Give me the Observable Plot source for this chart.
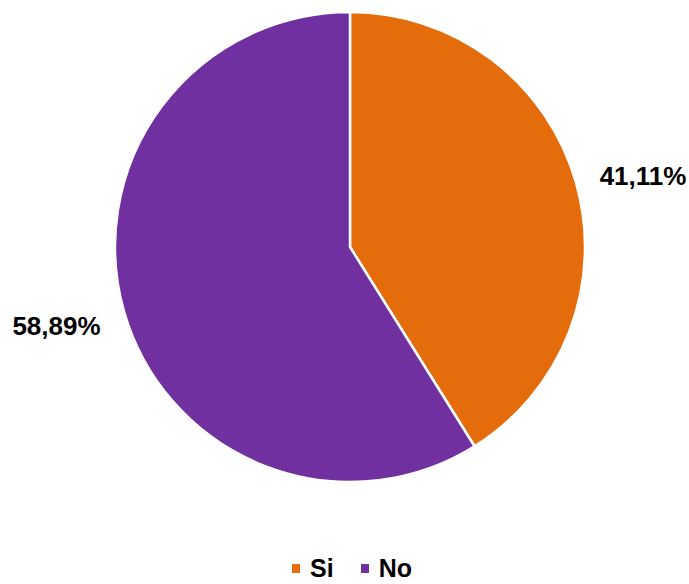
<!DOCTYPE html>
<html>
<head>
<meta charset="utf-8">
<script src="https://cdn.jsdelivr.net/npm/d3@7"></script>
<script src="https://cdn.jsdelivr.net/npm/@observablehq/plot@0.6"></script>
<style>
  html, body { margin: 0; padding: 0; background: #fff; }
  body { position: relative; width: 689px; height: 584px; overflow: hidden; font-family: "Liberation Sans", Arial, sans-serif; }
  #legend { position: absolute; left: 292px; top: 557px; height: 22px; }
  .pie-swatches { display: flex; align-items: center; height: 22px; min-height: 0 !important; margin: 0 !important;
    font: bold 25px/22px "Liberation Sans", Arial, sans-serif; color: #000; }
  .pie-swatches > span { display: inline-flex; align-items: center; line-height: 22px; margin-right: 27px !important; }
  .pie-swatches > span > svg { margin-right: 10px !important; }
</style>
</head>
<body>
<div id="chart"></div>
<div id="legend"></div>
<script>
// Answers and their share of responses (percent)
const categories = ["Si", "No"];
const shares = [41.11, 58.89];
const labels = ["41,11%", "58,89%"];
const colors = ["#E46C0A", "#7030A0"];

const data = categories.map((c, i) => ({answer: c, share: shares[i], label: labels[i]}));

const colorScale = Plot.scale({color: {domain: categories, range: colors}});

// Small nudges applied to the outside-end labels
const labelNudge = [[5, 11.5], [-5.5, -3.5]];

// Pie slices drawn with d3.pie / d3.arc inside a custom Plot mark
function pieMark(index, scales, values, dimensions) {
  const {width, height, marginLeft, marginRight, marginTop, marginBottom} = dimensions;
  const cx = marginLeft + (width - marginLeft - marginRight) / 2;
  const cy = marginTop + (height - marginTop - marginBottom) / 2;
  const r = (height - marginTop - marginBottom) / 2 - 12;
  const arcs = d3.pie().sort(null).value(d => d.share)(data);
  const arc = d3.arc().innerRadius(0).outerRadius(r);
  const labelArc = d3.arc().innerRadius(r * 1.275).outerRadius(r * 1.275);

  const g = d3.create("svg:g").attr("transform", `translate(${cx},${cy})`);
  g.selectAll("path")
    .data(arcs)
    .join("path")
    .attr("d", arc)
    .attr("fill", d => colorScale.apply(d.data.answer))
    .attr("stroke", "#fff")
    .attr("stroke-width", 2.5)
    .attr("stroke-linejoin", "round");
  g.selectAll("text")
    .data(arcs)
    .join("text")
    .attr("transform", (d, i) => {
      const [x, y] = labelArc.centroid(d);
      return `translate(${x + labelNudge[i][0]},${y + labelNudge[i][1]})`;
    })
    .attr("text-anchor", "middle")
    .attr("dy", "0.35em")
    .attr("font-family", "'Liberation Sans', Arial, sans-serif")
    .attr("font-weight", "bold")
    .attr("font-size", 26)
    .attr("fill", "#000")
    .text(d => d.data.label);
  return g.node();
}

const chart = Plot.plot({
  width: 689,
  height: 494,
  marginLeft: 11,
  marginRight: 0,
  marginTop: 0,
  marginBottom: 0,
  x: {axis: null},
  y: {axis: null},
  marks: [pieMark]
});
document.getElementById("chart").append(chart);

const legend = Plot.legend({
  color: {domain: categories, range: colors},
  className: "pie",
  swatchSize: 8,
  swatchWidth: 8,
  swatchHeight: 9
});
document.getElementById("legend").append(legend);
</script>
</body>
</html>
